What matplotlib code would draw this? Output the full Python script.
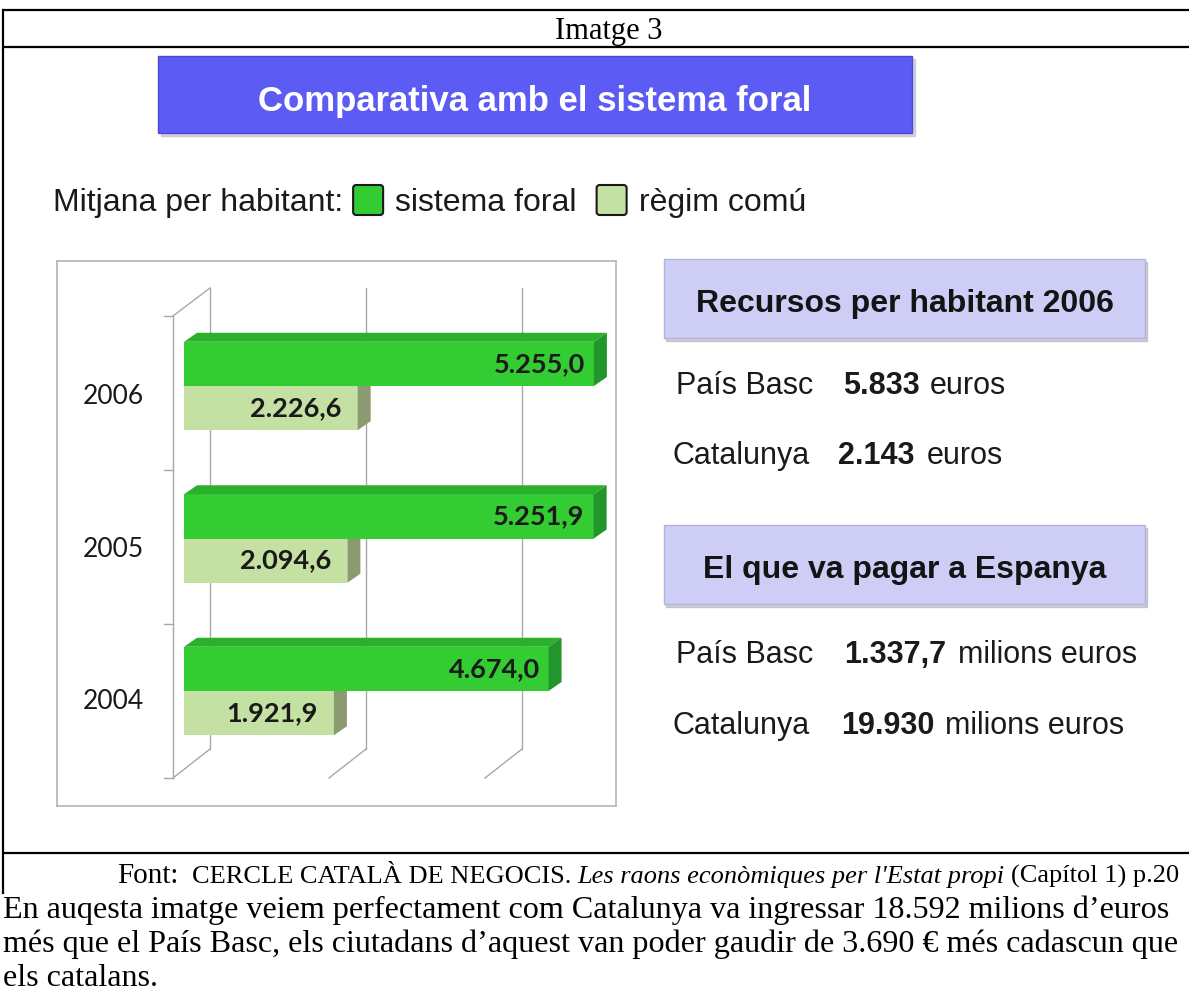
import numpy as np
import matplotlib
matplotlib.use('Agg')
import matplotlib.pyplot as plt
from matplotlib.patches import Polygon, FancyBboxPatch, Rectangle

# data
years = ['2004', '2005', '2006']
foral = [4674.0, 5251.9, 5255.0]
comu = [1921.9, 2094.6, 2226.6]
foral_labels = ['4.674,0', '5.251,9', '5.255,0']
comu_labels = ['1.921,9', '2.094,6', '2.226,6']
grid_values = [0, 2000, 4000]

W, H = 1189, 996
SANS = 'Liberation Sans'
SERIF = 'Liberation Serif'
CAL = 'Lato'

GREEN = '#33CC33'
GREEN_TOP = '#2BB02B'
GREEN_SIDE = '#22962A'
LIGHT = '#C4E0A2'
LIGHT_SIDE = '#8C9A72'
GRID = '#A8A8A8'

fig = plt.figure(figsize=(W / 100, H / 100), dpi=100)
ax0 = fig.add_axes([0, 0, 1, 1])
ax0.set_xlim(0, W)
ax0.set_ylim(H, 0)
ax0.axis('off')

# table borders
for yy in [10, 47, 853]:
    ax0.plot([3, W], [yy, yy], color='black', lw=1.6, solid_capstyle='butt')
ax0.plot([3, 3], [10, 893], color='black', lw=1.6)

ax0.text(609, 39, 'Imatge 3', family=SERIF, fontsize=22, ha='center', va='baseline')

# title box
ax0.add_patch(Rectangle((161, 59), 754, 77, color='#B8B8C8', alpha=0.6, zorder=1))
ax0.add_patch(Rectangle((158, 56), 754, 77, facecolor='#5C5CF4', edgecolor='#4A4AD6', lw=1, zorder=2))
ax0.text(535, 111, 'Comparativa amb el sistema foral', family=SANS, weight='bold',
         fontsize=25, color='white', ha='center', va='baseline', zorder=3)

# legend line
r = fig.canvas.get_renderer()
def chain(x, y, s, **kw):
    t = ax0.text(x, y, s, va='baseline', ha='left', **kw)
    return t.get_window_extent(renderer=r).x1

x = chain(53, 211, 'Mitjana per habitant:', family=SANS, fontsize=23, color='#1a1a1a')
x += 10
ax0.add_patch(FancyBboxPatch((x + 3, 188), 24, 24, boxstyle='round,pad=3',
                             facecolor=GREEN, edgecolor='#1a1a1a', lw=1.5))
x = chain(x + 42, 211, 'sistema foral', family=SANS, fontsize=23, color='#1a1a1a')
x += 20
ax0.add_patch(FancyBboxPatch((x + 3, 188), 24, 24, boxstyle='round,pad=3',
                             facecolor=LIGHT, edgecolor='#1a1a1a', lw=1.5))
chain(x + 42, 211, 'règim comú', family=SANS, fontsize=23, color='#1a1a1a')

# right panel boxes
for top, label in [(259, 'Recursos per habitant 2006'), (525, 'El que va pagar a Espanya')]:
    ax0.add_patch(Rectangle((666, top + 3), 481, 79, color='#A0A0B0', alpha=0.5, zorder=1))
    ax0.add_patch(Rectangle((664, top), 481, 79, facecolor='#CDCDF6', edgecolor='#B2B2DC', lw=1, zorder=2))
    ax0.text(905, top + 53, label, family=SANS, weight='bold', fontsize=23,
             color='#141414', ha='center', va='baseline', zorder=3)

rows = [
    (394, 676, 'País Basc', 843, '5.833', 930, 'euros'),
    (464, 673, 'Catalunya', 838, '2.143', 927, 'euros'),
    (663, 676, 'País Basc', 844, '1.337,7', 958, 'milions euros'),
    (734, 672, 'Catalunya', 841, '19.930', 945, 'milions euros'),
]
for yb, x1, name, x2, num, x3, unit in rows:
    ax0.text(x1, yb, name, family=SANS, fontsize=22, color='#1a1a1a', va='baseline')
    ax0.text(x2, yb, num, family=SANS, fontsize=22, weight='bold', color='#1a1a1a', va='baseline')
    ax0.text(x3, yb, unit, family=SANS, fontsize=22, color='#1a1a1a', va='baseline')

# source + commentary
x = chain(117, 883, 'Font:', family=SERIF, fontsize=21)
x = chain(x + 14, 883, 'CERCLE CATALÀ DE NEGOCIS.', family=SERIF, fontsize=19)
x = chain(x + 6, 883, "Les raons econòmiques per l'Estat propi", family=SERIF, fontsize=19, style='italic')
chain(x + 6, 883, '(Capítol 1) p.20', family=SERIF, fontsize=19)

body = ['En auqesta imatge veiem perfectament com Catalunya va ingressar 18.592 milions d\u2019euros',
        'més que el País Basc, els ciutadans d\u2019aquest van poder gaudir de 3.690 € més cadascun que',
        'els catalans.']
for i, line in enumerate(body):
    ax0.text(3, 918 + 34 * i, line, family=SERIF, fontsize=23.1, va='baseline')

# chart (pseudo 3D bars)
kx = 0.078          # px per value unit
ky = 152.5          # px per category
left_px, right_px, top_px, bot_px = 57, 616, 261, 806
zero_px, base_px = 184, 691
ax = fig.add_axes([left_px / W, 1 - bot_px / H, (right_px - left_px) / W, (bot_px - top_px) / H])
ax.set_xlim((left_px - zero_px) / kx, (right_px - zero_px) / kx)
ax.set_ylim((base_px - bot_px) / ky, (base_px - top_px) / ky)
ax.set_xticks([])
ax.set_yticks([])
for s in ax.spines.values():
    s.set_color('#B4B4B4')
    s.set_linewidth(1.2)

ux = 1 / kx
uy = 1 / ky
back_dx = 26 * ux                  # back wall offset from bar zero
front_dx = -11 * ux                # front axis offset
wall_lo, wall_hi = -58 * uy, 403 * uy
fl_lo, fl_hi = -87 * uy, 375 * uy

# back wall gridlines and floor slants
for g in grid_values:
    ax.plot([g + back_dx, g + back_dx], [wall_lo, wall_hi], color=GRID, lw=1)
    ax.plot([g + back_dx, g + front_dx], [wall_lo, fl_lo], color=GRID, lw=1)
ax.plot([back_dx, front_dx], [wall_hi, fl_hi], color=GRID, lw=1)
ax.plot([front_dx, front_dx], [fl_lo, fl_hi], color=GRID, lw=1)
for k in range(len(years) + 1):
    yt = fl_lo + k * (fl_hi - fl_lo) / len(years)
    ax.plot([front_dx - 9 * ux, front_dx], [yt, yt], color=GRID, lw=1)

h = 0.29
ddx, ddy = 13 * ux, 9 * uy
ypos = np.arange(len(years))

def bar3d(y0, v, front, top, side):
    ax.barh(y0 + h / 2, v, height=h, left=0, color=front, edgecolor='none', zorder=3)
    ax.add_patch(Polygon([(0, y0 + h), (v, y0 + h), (v + ddx, y0 + h + ddy), (ddx, y0 + h + ddy)],
                         closed=True, facecolor=top, edgecolor='none', zorder=3))
    ax.add_patch(Polygon([(v, y0), (v, y0 + h), (v + ddx, y0 + h + ddy), (v + ddx, y0 + ddy)],
                         closed=True, facecolor=side, edgecolor='none', zorder=3))

for i in ypos:
    bar3d(i - h, comu[i], LIGHT, LIGHT, LIGHT_SIDE)
for i in ypos:
    bar3d(i, foral[i], GREEN, GREEN_TOP, GREEN_SIDE)

for i in ypos:
    ax.text(foral[i] - 9 * ux, i + h / 2, foral_labels[i], family=CAL, weight='bold',
            fontsize=19.5, color='#1a1a1a', ha='right', va='center', zorder=5)
    ax.text(comu[i] - 16 * ux, i - h / 2, comu_labels[i], family=CAL, weight='bold',
            fontsize=19.5, color='#1a1a1a', ha='right', va='center', zorder=5)
    ax.text(-71 * ux, i - 0.07, years[i], family=CAL, fontsize=19, color='#1a1a1a',
            ha='center', va='center')

fig.savefig('out.png', dpi=100)
